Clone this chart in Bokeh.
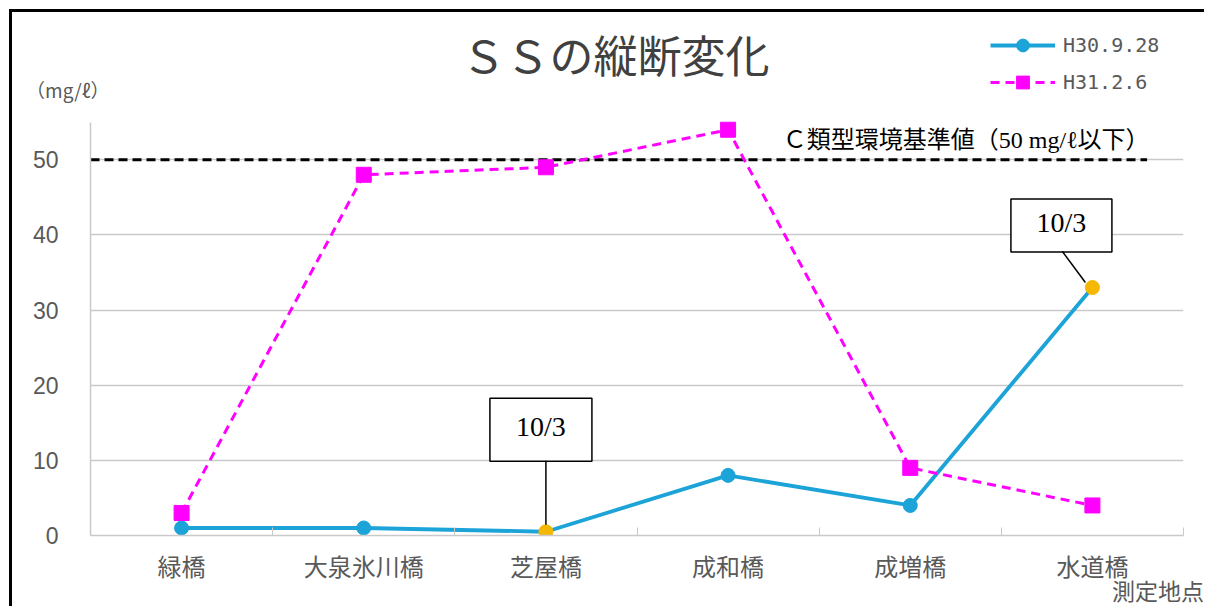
from bokeh.plotting import figure
from bokeh.models import (Range1d, FixedTicker, Legend, LegendItem, Label,
                          LinearAxis, ColumnDataSource)
from bokeh.core.properties import value
from bokeh.embed import file_html
from bokeh.resources import INLINE

# --- data -------------------------------------------------------------
sites = ["緑橋", "大泉氷川橋", "芝屋橋", "成和橋", "成増橋", "水道橋"]
h30_label = "H30.9.28"
h30_ss = [1, 1, 0.5, 8, 4, 33]
h30_other_date = ["", "", "10/3", "", "", "10/3"]  # sampled on a different day
h31_label = "H31.2.6"
h31_ss = [3, 48, 49, 54, 9, 4]
y_ticks = [0, 10, 20, 30, 40, 50]
standard_value = 50
standard_text = "Ｃ類型環境基準値（50 mg/ℓ以下）"
title_text = "ＳＳの縦断変化"
y_unit = "（mg/ℓ）"
x_title = "測定地点"

# --- styling ----------------------------------------------------------
BLUE = "#1CA3D8"
MAGENTA = "#FF00FF"
ORANGE = "#F5B700"
GRID = "#C9C9C9"
TXT = "#595959"
JP = "Noto Sans CJK JP"
SERIF = "Liberation Serif, Noto Sans CJK JP"

W, H = 1195, 597
ML, MR, MT, MB = 78, 24, 0, 74
FW, FH = W - ML - MR, H - MT - MB
AXIS_TOP = 55          # upper end of the drawn value axis
Y_TOP = 69.6           # extra head-room above it for title and legend
px_x = FW / len(sites)
px_y = FH / Y_TOP

xs = [i + 0.5 for i in range(len(sites))]

p = figure(width=W, height=H, output_backend="svg", toolbar_location=None,
           x_range=Range1d(0, len(sites)), y_range=Range1d(0, Y_TOP),
           min_border_left=ML, min_border_right=MR,
           min_border_top=MT, min_border_bottom=MB)
p.styles = {"margin-left": "9px", "margin-top": "9px",
            "border-left": "3px solid #000", "border-top": "3px solid #000"}
p.outline_line_color = None
p.background_fill_color = "white"
p.border_fill_color = "white"

# x axis: site names centred, tick marks on the boundaries
xa = p.xaxis[0]
xa.ticker = FixedTicker(ticks=xs, minor_ticks=list(range(len(sites) + 1)))
xa.major_label_overrides = {x: s for x, s in zip(xs, sites)}
xa.major_tick_in = 0
xa.major_tick_out = 0
xa.minor_tick_in = 8
xa.minor_tick_out = 0
xa.minor_tick_line_color = GRID
xa.axis_line_color = GRID
xa.axis_line_width = 1.5
xa.major_label_standoff = 12
xa.major_label_text_font = JP
xa.major_label_text_font_size = "24px"
xa.major_label_text_color = TXT

# y axis
ya = p.yaxis[0]
ya.ticker = FixedTicker(ticks=y_ticks)
ya.bounds = (0, AXIS_TOP)
ya.major_tick_in = 0
ya.major_tick_out = 0
ya.minor_tick_line_color = None
ya.axis_line_color = GRID
ya.axis_line_width = 1.5
ya.major_label_standoff = 32
ya.major_label_text_font = "Liberation Sans Narrow, Liberation Sans"
ya.major_label_text_font_size = "23px"
ya.major_label_text_color = TXT

# unit caption above the value axis
unit_y = AXIS_TOP + 4.3
unit_axis = LinearAxis(ticker=FixedTicker(ticks=[unit_y]),
                       major_label_overrides={unit_y: y_unit},
                       axis_line_color=None, major_tick_line_color=None,
                       minor_tick_line_color=None, major_label_standoff=-86,
                       major_label_text_font=JP,
                       major_label_text_font_size="19px",
                       major_label_text_color=TXT)
p.add_layout(unit_axis, "left")

# x-axis caption at the right end
xt_x = len(sites) - 0.14
xt_axis = LinearAxis(ticker=FixedTicker(ticks=[xt_x]),
                     major_label_overrides={xt_x: x_title},
                     axis_line_color=None, major_tick_line_color=None,
                     minor_tick_line_color=None, major_label_standoff=-19,
                     major_label_text_font=JP,
                     major_label_text_font_size="23px",
                     major_label_text_color=TXT)
p.add_layout(xt_axis, "below")

p.xgrid.grid_line_color = None
p.ygrid.ticker = FixedTicker(ticks=y_ticks[1:])
p.ygrid.grid_line_color = GRID
p.ygrid.grid_line_width = 1.5

# environmental standard line
p.line([0, len(sites) - 0.2], [standard_value, standard_value],
       line_color="black", line_width=3, line_dash="9 5")
p.text(x=[len(sites) - 2.2], y=[standard_value], text=[standard_text],
       y_offset=-20, text_font=value(SERIF), text_font_size="24px",
       text_color="black", text_baseline="middle", text_align="left")

# series
h30_line = p.line(xs, h30_ss, line_color=BLUE, line_width=3.8)
h31_line = p.line(xs, h31_ss, line_color=MAGENTA, line_width=3,
                  line_dash="9 6")
regular = ColumnDataSource(dict(
    x=[x for x, d in zip(xs, h30_other_date) if not d],
    y=[v for v, d in zip(h30_ss, h30_other_date) if not d]))
other = ColumnDataSource(dict(
    x=[x for x, d in zip(xs, h30_other_date) if d],
    y=[v for v, d in zip(h30_ss, h30_other_date) if d]))
h30_pts = p.scatter("x", "y", source=regular, marker="circle", size=14,
                    fill_color=BLUE, line_color=BLUE)
p.scatter("x", "y", source=other, marker="circle", size=14,
          fill_color=ORANGE, line_color=ORANGE)
h31_pts = p.scatter(xs, h31_ss, marker="square", size=15,
                    fill_color=MAGENTA, line_color=MAGENTA)

# date call-outs: box offset (px), box size (px), leader start/end offsets (px)
callout_style = {
    2: dict(dx=-5, dy=102, w=102, h=63, l0=(0, 71), l1=(0, 7)),
    5: dict(dx=-31, dy=62, w=101, h=53, l0=(-30, 36), l1=(-7, 5)),
}
for i, d in enumerate(h30_other_date):
    if not d:
        continue
    s = callout_style[i]
    bx = xs[i] + s["dx"] / px_x
    by = h30_ss[i] + s["dy"] / px_y
    p.rect(x=[bx], y=[by], width=s["w"], height=s["h"],
           width_units="screen", height_units="screen",
           fill_color="white", line_color="black", line_width=1.5)
    p.text(x=[bx], y=[by], text=[d], text_font=value("Liberation Serif"),
           text_font_size="28px", text_color="black",
           text_align="center", text_baseline="middle", y_offset=-3)
    p.segment(x0=[xs[i] + s["l0"][0] / px_x], y0=[h30_ss[i] + s["l0"][1] / px_y],
              x1=[xs[i] + s["l1"][0] / px_x], y1=[h30_ss[i] + s["l1"][1] / px_y],
              line_color="black", line_width=1.5)

# legend
legend = Legend(items=[LegendItem(label=h30_label, renderers=[h30_line, h30_pts]),
                       LegendItem(label=h31_label, renderers=[h31_line, h31_pts])],
                location=(900, 437), orientation="vertical",
                glyph_width=65, glyph_height=32, label_height=32,
                spacing=5, padding=0, margin=0, label_standoff=8,
                border_line_color=None, background_fill_alpha=0,
                label_text_font="DejaVu Sans Mono",
                label_text_font_size="20px", label_text_color=TXT)
p.add_layout(legend, "center")

# chart title
p.add_layout(Label(x=525, y=482, x_units="screen", y_units="screen",
                   text=title_text, text_font=JP, text_font_size="44px",
                   text_color="#404040", text_align="center",
                   text_baseline="middle"))

open("out.html", "w").write(file_html(p, INLINE))
